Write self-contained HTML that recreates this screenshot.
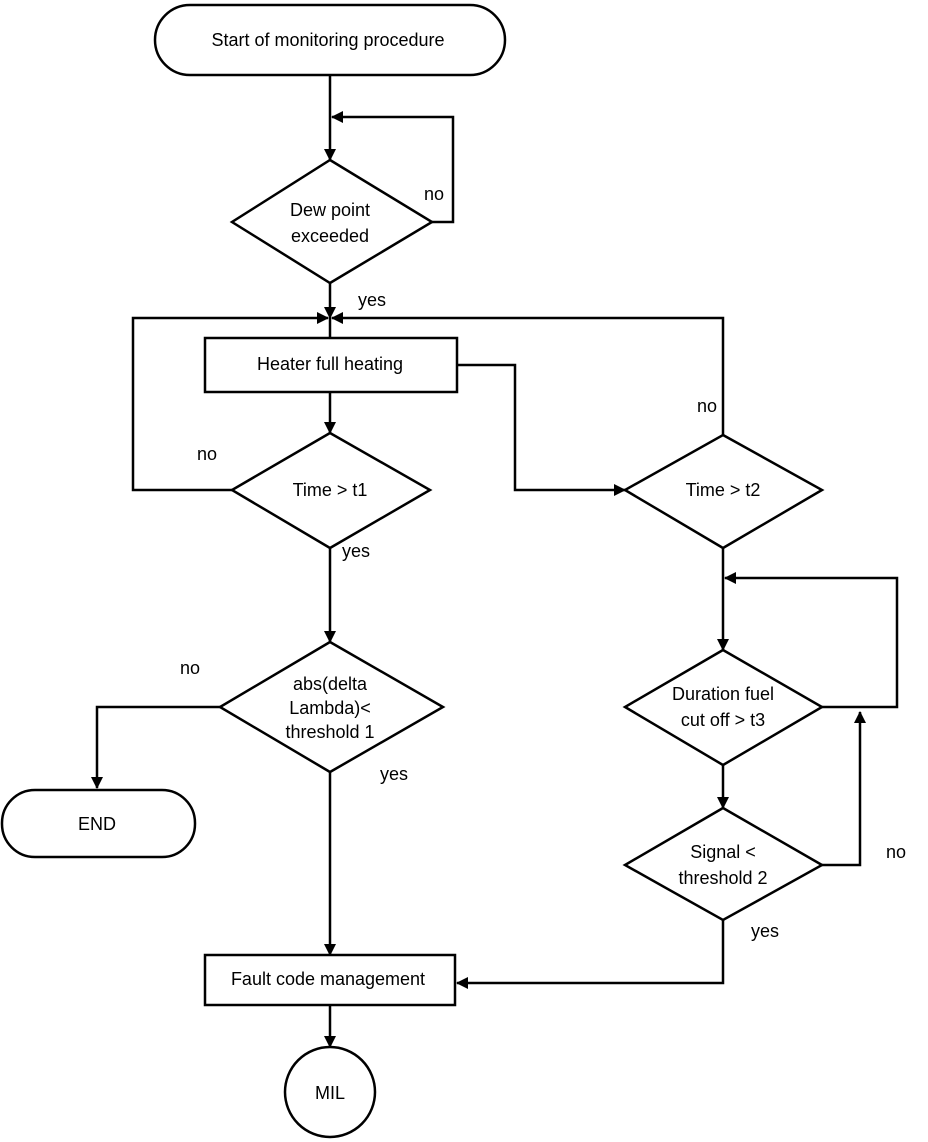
<!DOCTYPE html>
<html><head><meta charset="utf-8"><style>
html,body{margin:0;padding:0;background:#fff;}
svg{display:block;}
text{font-family:"Liberation Sans",sans-serif;font-size:18px;fill:#000;}
</style></head><body>
<svg width="928" height="1142" viewBox="0 0 928 1142" xmlns="http://www.w3.org/2000/svg">
<defs><marker id="a" markerWidth="12" markerHeight="12" refX="11" refY="6" orient="auto" markerUnits="userSpaceOnUse"><path d="M0,0 L12,6 L0,12 z" fill="#000"/></marker></defs>
<g fill="none" stroke="#000" stroke-width="2.5">
<rect x="155" y="5" width="350" height="70" rx="35"/>
<polygon points="330,160 432,222 330,283 232,222"/>
<rect x="205" y="338" width="252" height="54"/>
<polygon points="330,433 430,490 330,548 232,490"/>
<polygon points="723,435 822,490 723,548 625,490"/>
<polygon points="330,642 443,707 330,772 220,707"/>
<rect x="2" y="790" width="193" height="67" rx="33"/>
<polygon points="723,650 822,707 723,765 625,707"/>
<polygon points="723,808 822,865 723,920 625,865"/>
<rect x="205" y="955" width="250" height="50"/>
<circle cx="330" cy="1092" r="45"/>
<path d="M330,75 V160" marker-end="url(#a)"/>
<path d="M432,222 H453 V117 H332" marker-end="url(#a)"/>
<path d="M330,283 V318" marker-end="url(#a)"/>
<path d="M330,318 V338"/>
<path d="M232,490 H133 V318 H328" marker-end="url(#a)"/>
<path d="M723,435 V318 H332" marker-end="url(#a)"/>
<path d="M330,392 V433" marker-end="url(#a)"/>
<path d="M457,365 H515 V490 H625" marker-end="url(#a)"/>
<path d="M330,548 V642" marker-end="url(#a)"/>
<path d="M220,707 H97 V788" marker-end="url(#a)"/>
<path d="M330,772 V955" marker-end="url(#a)"/>
<path d="M330,1005 V1047" marker-end="url(#a)"/>
<path d="M723,548 V650" marker-end="url(#a)"/>
<path d="M822,707 H897 V578 H725" marker-end="url(#a)"/>
<path d="M723,765 V808" marker-end="url(#a)"/>
<path d="M822,865 H860 V712" marker-end="url(#a)"/>
<path d="M723,920 V983 H457" marker-end="url(#a)"/>
</g>
<g text-anchor="middle">
<text x="328" y="46">Start of monitoring procedure</text>
<text x="330" y="216">Dew point</text>
<text x="330" y="242">exceeded</text>
<text x="330" y="370">Heater full heating</text>
<text x="330" y="496">Time &gt; t1</text>
<text x="723" y="496">Time &gt; t2</text>
<text x="330" y="690">abs(delta</text>
<text x="330" y="714">Lambda)&lt;</text>
<text x="330" y="738">threshold 1</text>
<text x="97" y="830">END</text>
<text x="723" y="700">Duration fuel</text>
<text x="723" y="726">cut off &gt; t3</text>
<text x="723" y="858">Signal &lt;</text>
<text x="723" y="884">threshold 2</text>
<text x="328" y="985">Fault code management</text>
<text x="330" y="1099">MIL</text>
</g>
<g>
<text x="424" y="200">no</text>
<text x="358" y="306">yes</text>
<text x="697" y="412">no</text>
<text x="197" y="460">no</text>
<text x="342" y="557">yes</text>
<text x="180" y="674">no</text>
<text x="380" y="780">yes</text>
<text x="886" y="858">no</text>
<text x="751" y="937">yes</text>
</g>
</svg>
</body></html>
